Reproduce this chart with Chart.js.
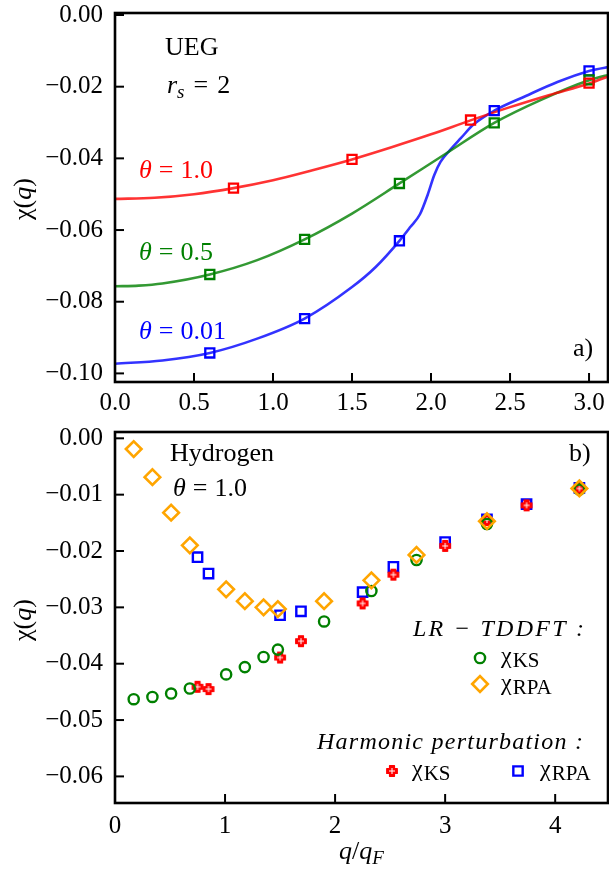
<!DOCTYPE html>
<html>
<head>
<meta charset="UTF-8">
<title>chi(q) UEG / Hydrogen</title>
<script src="https://cdn.jsdelivr.net/npm/chart.js"></script>
<style>
  body { margin: 0; background: #fff; }
  .panel { position: absolute; left: 0; }
  #pa { top: 0; }
  #pb { top: 420px; }
</style>
</head>
<body>
<div class="panel" id="pa"><canvas id="chartA" width="609" height="420"></canvas></div>
<div class="panel" id="pb"><canvas id="chartB" width="609" height="451"></canvas></div>
<script>
// ---- panel a) UEG, r_s = 2 : curves ----
const qA_t10   = [0, 0.25, 0.5, 0.75, 1.0, 1.25, 1.5, 1.75, 2.0, 2.25, 2.5, 2.75, 3.0, 3.15];
const chiA_t10 = [-0.0513, -0.0510, -0.0500, -0.0483, -0.0461, -0.0433, -0.0403, -0.0369, -0.0333, -0.0294, -0.0257, -0.0223, -0.0191, -0.0167];
const qA_t05   = [0, 0.15, 0.3, 0.6, 0.9, 1.2, 1.5, 1.8, 2.1, 2.4, 2.7, 3.0, 3.15];
const chiA_t05 = [-0.0757, -0.0755, -0.0749, -0.0724, -0.0684, -0.0626, -0.0554, -0.0470, -0.0385, -0.0301, -0.0236, -0.0182, -0.0164];
const qA_t001   = [0, 0.3, 0.6, 0.9, 1.2, 1.5, 1.65, 1.8, 1.87, 1.93, 1.98, 2.02, 2.06, 2.12, 2.19, 2.27, 2.4, 2.6, 2.8, 3.0, 3.15];
const chiA_t001 = [-0.0973, -0.0964, -0.0943, -0.0903, -0.0847, -0.0759, -0.0703, -0.0630, -0.0591, -0.0556, -0.0500, -0.0447, -0.0410, -0.0377, -0.0343, -0.0305, -0.0267, -0.0226, -0.0187, -0.0156, -0.0143];

// square markers
const qSq_t10    = [0.75, 1.5, 2.25, 3.0];
const chiSq_t10  = [-0.0483, -0.0403, -0.0293, -0.0190];
const qSq_t05    = [0.6, 1.2, 1.8, 2.4, 3.0];
const chiSq_t05  = [-0.0724, -0.0626, -0.0470, -0.0301, -0.0181];
const qSq_t001   = [0.6, 1.2, 1.8, 2.4, 3.0];
const chiSq_t001 = [-0.0943, -0.0847, -0.0630, -0.0267, -0.0156];

// ---- panel b) Hydrogen, theta = 1.0 ----
const qLR       = [0.17, 0.34, 0.51, 0.68, 1.01, 1.18, 1.35, 1.48, 1.90, 2.33, 2.74, 3.38, 4.22];
const chiLR_KS  = [-0.0463, -0.0459, -0.0453, -0.0444, -0.0419, -0.0406, -0.0388, -0.0375, -0.0325, -0.0271, -0.0216, -0.0152, -0.0091];
const chiLR_RPA = [-0.0019, -0.0069, -0.0132, -0.0190, -0.0268, -0.0289, -0.0300, -0.0303, -0.0289, -0.0252, -0.0207, -0.0147, -0.0089];
const qHP       = [0.75, 0.85, 1.50, 1.69, 2.25, 2.53, 3.00, 3.38, 3.74, 4.22];
const chiHP_KS  = [-0.0441, -0.0445, -0.0389, -0.0360, -0.0293, -0.0242, -0.0191, -0.0145, -0.0119, -0.0089];
const chiHP_RPA = [-0.0211, -0.0240, -0.0314, -0.0307, -0.0273, -0.0228, -0.0184, -0.0144, -0.0117, -0.0088];

const SERIF = '"Liberation Serif", "DejaVu Serif", serif';
const R26 = '26px ' + SERIF, I26 = 'italic 26px ' + SERIF;
const R24 = '24px ' + SERIF, I24 = 'italic 24px ' + SERIF;
const I19 = 'italic 19px ' + SERIF, R21 = '21px ' + SERIF;

const pts = (xs, ys) => xs.map((x, i) => ({ x: x, y: ys[i] }));

function plusMarker(color) {
  const c = document.createElement('canvas');
  c.width = 14; c.height = 14;
  const g = c.getContext('2d');
  const m = 7, a = 5.2, b = 2.4;
  g.fillStyle = color; g.strokeStyle = color; g.lineWidth = 1.4; g.lineJoin = 'round';
  g.beginPath();
  g.moveTo(m - b, m - a); g.lineTo(m + b, m - a); g.lineTo(m + b, m - b); g.lineTo(m + a, m - b);
  g.lineTo(m + a, m + b); g.lineTo(m + b, m + b); g.lineTo(m + b, m + a); g.lineTo(m - b, m + a);
  g.lineTo(m - b, m + b); g.lineTo(m - a, m + b); g.lineTo(m - a, m - b); g.lineTo(m - b, m - b);
  g.closePath(); g.fill(); g.stroke();
  g.fillStyle = '#fff';
  g.fillRect(m - 3, m - 0.5, 6, 1);
  g.fillRect(m - 0.5, m - 3, 1, 6);
  return c;
}
const redPlus = plusMarker('#ff0000');

function lineSet(xs, ys, color) {
  return { data: pts(xs, ys), showLine: true, borderColor: color, borderWidth: 2.6,
           pointRadius: 0, cubicInterpolationMode: 'monotone', fill: false };
}
function markSet(xs, ys, color, style, r, bw) {
  return { data: pts(xs, ys), showLine: false, pointStyle: style, pointRadius: r,
           borderColor: color, backgroundColor: 'rgba(0,0,0,0)', pointBorderWidth: bw };
}

function txt(ctx, parts, x, y) {
  // parts: [text, font, dy, extraGapAfter]
  let cx = x;
  for (const p of parts) {
    ctx.font = p[1];
    ctx.fillText(p[0], cx, y + (p[2] || 0));
    cx += ctx.measureText(p[0]).width + (p[3] || 0);
  }
  return cx;
}
function spread(ctx, str, font, x, y, width) {
  ctx.font = font;
  const ws = [...str].map(ch => ctx.measureText(ch).width);
  const tot = ws.reduce((s, w) => s + w, 0);
  const gap = (width - tot) / (str.length - 1);
  let cx = x;
  [...str].forEach((ch, i) => { ctx.fillText(ch, cx, y); cx += ws[i] + gap; });
}
function yTitle(ctx, cy) {
  ctx.save();
  ctx.fillStyle = '#000';
  ctx.translate(31, cy);
  ctx.rotate(-Math.PI / 2);
  const parts = [['χ(', R26], ['q', I26], [')', R26]];
  let w = 0;
  parts.forEach(p => { ctx.font = p[1]; w += ctx.measureText(p[0]).width; });
  txt(ctx, parts, -w / 2, 0);
  ctx.restore();
}

const framePlugin = {
  id: 'frame',
  afterDraw(chart) {
    const ctx = chart.ctx, a = chart.chartArea;
    ctx.save();
    ctx.strokeStyle = '#000';
    ctx.lineWidth = 2;
    chart.scales.y.ticks.forEach(t => {
      const y = chart.scales.y.getPixelForValue(t.value);
      ctx.beginPath(); ctx.moveTo(a.left, y); ctx.lineTo(a.left + 9, y); ctx.stroke();
    });
    chart.scales.x.ticks.forEach(t => {
      const x = chart.scales.x.getPixelForValue(t.value);
      ctx.beginPath(); ctx.moveTo(x, a.bottom); ctx.lineTo(x, a.bottom - 9); ctx.stroke();
    });
    ctx.lineWidth = 2.6;
    ctx.strokeRect(a.left, a.top, a.right - a.left, a.bottom - a.top);
    ctx.restore();
  }
};

const minus = v => (Math.abs(v) < 1e-9 ? '0.00' : (v < 0 ? '−' : '') + Math.abs(v).toFixed(2));

function axes(xmax, xstep, xfmt, ymin, ymax, ystep, xHeight, xPad) {
  return {
    x: { type: 'linear', min: 0, max: xmax,
         ticks: { stepSize: xstep, includeBounds: false, autoSkip: false, maxRotation: 0,
                  padding: xPad, color: '#000', font: { family: SERIF, size: 25, lineHeight: 1.2 },
                  callback: xfmt },
         grid: { display: false, drawTicks: false }, border: { display: false },
         afterFit(s) { s.height = xHeight; s.paddingLeft = 0; s.paddingRight = 0; s.paddingTop = 0; s.paddingBottom = 0; } },
    y: { type: 'linear', min: ymin, max: ymax,
         ticks: { stepSize: ystep, includeBounds: false, autoSkip: false, padding: 12, color: '#000',
                  font: { family: SERIF, size: 25, lineHeight: 1.2 }, callback: minus },
         grid: { display: false, drawTicks: false }, border: { display: false },
         afterFit(s) { s.width = 115; s.paddingLeft = 0; s.paddingRight = 0; s.paddingTop = 0; s.paddingBottom = 0; } }
  };
}

const baseOpts = {
  responsive: false, animation: false, events: [],
  plugins: { legend: { display: false }, tooltip: { enabled: false } }
};

// ---------- panel a ----------
const textA = {
  id: 'textA',
  afterDraw(chart) {
    const ctx = chart.ctx;
    ctx.save();
    ctx.textBaseline = 'alphabetic';
    ctx.fillStyle = '#000';
    txt(ctx, [['UEG', R26]], 165, 55);
    txt(ctx, [['r', I26], ['s', I19, 5, 9], ['=', R26, 0, 9], ['2', R26]], 167, 93);
    ctx.fillStyle = '#ff0000';
    txt(ctx, [['θ', I26, 0, 7], ['=', R26, 0, 7], ['1.0', R26]], 139, 178);
    ctx.fillStyle = '#008000';
    txt(ctx, [['θ', I26, 0, 7], ['=', R26, 0, 7], ['0.5', R26]], 139, 260);
    ctx.fillStyle = '#0000ff';
    txt(ctx, [['θ', I26, 0, 7], ['=', R26, 0, 7], ['0.01', R26]], 139, 339);
    ctx.fillStyle = '#000';
    txt(ctx, [['a)', R26]], 573, 356);
    yTitle(ctx, 199);
    ctx.restore();
  }
};

new Chart(document.getElementById('chartA'), {
  type: 'scatter',
  data: { datasets: [
    markSet(qSq_t10, chiSq_t10, '#ff0000', 'rect', 6.4, 2.3),
    markSet(qSq_t05, chiSq_t05, '#008000', 'rect', 6.4, 2.3),
    markSet(qSq_t001, chiSq_t001, '#0000ff', 'rect', 6.4, 2.3),
    lineSet(qA_t10, chiA_t10, 'rgba(255,0,0,0.8)'),
    lineSet(qA_t05, chiA_t05, 'rgba(0,128,0,0.8)'),
    lineSet(qA_t001, chiA_t001, 'rgba(0,0,255,0.8)')
  ] },
  options: Object.assign({}, baseOpts, {
    layout: { autoPadding: false, padding: { top: 13, right: 1, left: 0, bottom: 0 } },
    scales: axes(3.12, 0.5, v => v.toFixed(1), -0.1024, 0.00056, 0.02, 38, 6)
  }),
  plugins: [framePlugin, textA]
});

// ---------- panel b ----------
const textB = {
  id: 'textB',
  afterDraw(chart) {
    const ctx = chart.ctx;
    const H = Chart.helpers;
    ctx.save();
    ctx.textBaseline = 'alphabetic';
    ctx.fillStyle = '#000';
    txt(ctx, [['Hydrogen', R26]], 170, 41);
    txt(ctx, [['θ', I26, 0, 7], ['=', R26, 0, 7], ['1.0', R26]], 173, 76);
    txt(ctx, [['b)', R26]], 569, 41);
    spread(ctx, 'LR − TDDFT :', I24, 413, 216, 171);
    spread(ctx, 'Harmonic perturbation :', I24, 317, 329, 266);
    txt(ctx, [['χ', R24, 0, 1], ['KS', R21, 4]], 501, 243);
    txt(ctx, [['χ', R24, 0, 1], ['RPA', R21, 4]], 501, 270);
    txt(ctx, [['χ', R24, 0, 1], ['KS', R21, 4]], 412, 356);
    txt(ctx, [['χ', R24, 0, 1], ['RPA', R21, 4]], 540, 356);
    // x axis title q/q_F
    txt(ctx, [['q', I26], ['/', R26], ['q', I26], ['F', I19, 5]], 339, 439);
    yTitle(ctx, 200);
    // legend symbols
    ctx.fillStyle = 'rgba(0,0,0,0)';
    ctx.lineWidth = 2.4;
    ctx.strokeStyle = '#008000';
    H.drawPoint(ctx, { pointStyle: 'circle', radius: 5.1, borderWidth: 2.4 }, 480, 238);
    ctx.strokeStyle = '#ffa500';
    ctx.lineWidth = 2.6;
    H.drawPoint(ctx, { pointStyle: 'rectRot', radius: 7.8, borderWidth: 2.6 }, 480, 264);
    ctx.strokeStyle = '#0000ff';
    ctx.lineWidth = 2.4;
    H.drawPoint(ctx, { pointStyle: 'rect', radius: 6.6, borderWidth: 2.4 }, 518, 351);
    H.drawPoint(ctx, { pointStyle: redPlus, radius: 7 }, 392, 351);
    ctx.restore();
  }
};

new Chart(document.getElementById('chartB'), {
  type: 'scatter',
  data: { datasets: [
    markSet(qLR, chiLR_RPA, '#ffa500', 'rectRot', 7.8, 2.6),
    markSet(qLR, chiLR_KS, '#008000', 'circle', 5.1, 2.4),
    markSet(qHP, chiHP_KS, '#ff0000', redPlus, 7, 0),
    markSet(qHP, chiHP_RPA, '#0000ff', 'rect', 6.6, 2.4)
  ] },
  options: Object.assign({}, baseOpts, {
    layout: { autoPadding: false, padding: { top: 12, right: 1, left: 0, bottom: 0 } },
    scales: axes(4.48, 1, v => String(v), -0.06472, 0.00112, 0.01, 68, 8)
  }),
  plugins: [framePlugin, textB]
});
</script>
</body>
</html>
